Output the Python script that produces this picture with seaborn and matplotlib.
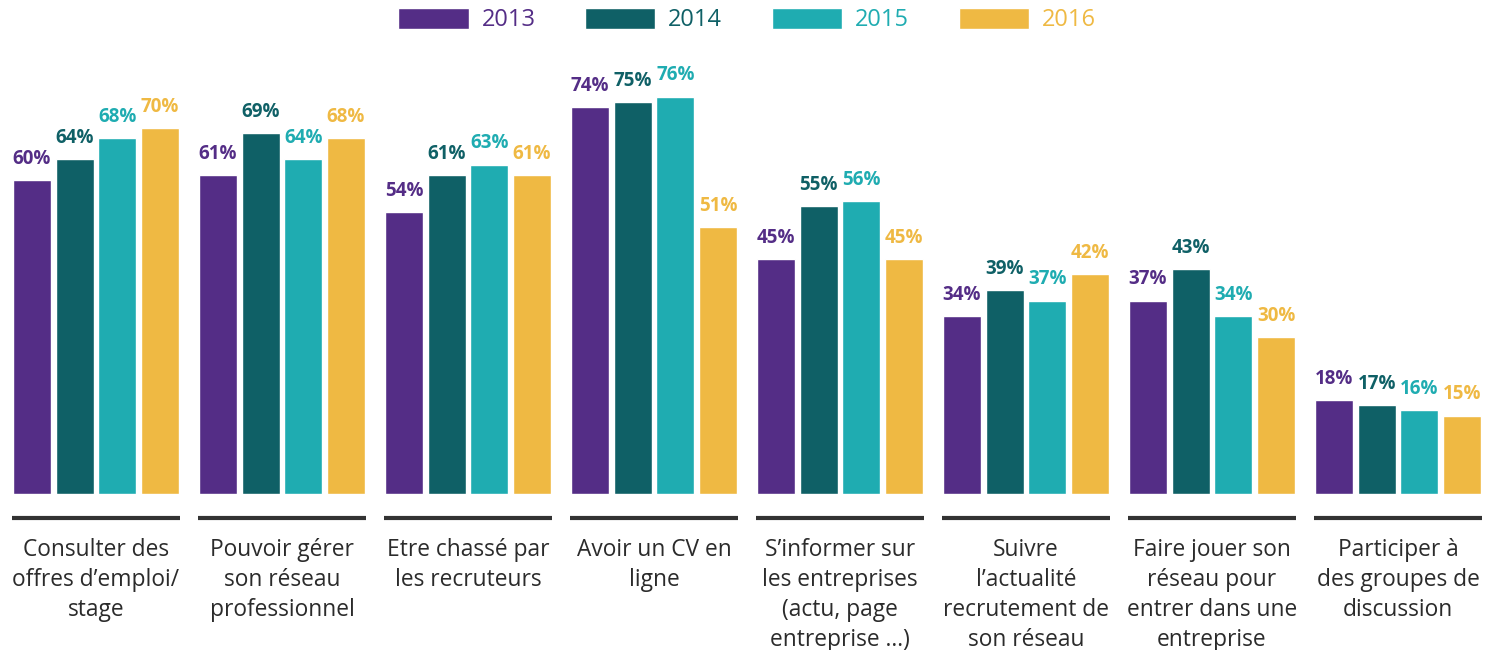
import pandas as pd
import matplotlib.pyplot as plt
import seaborn as sns

# usage values (%) per year
categories = [
    "Consulter des\noffres d\u2019emploi/\nstage",
    "Pouvoir gérer\nson réseau\nprofessionnel",
    "Etre chassé par\nles recruteurs",
    "Avoir un CV en\nligne",
    "S\u2019informer sur\nles entreprises\n(actu, page\nentreprise ...)",
    "Suivre\nl\u2019actualité\nrecrutement de\nson réseau",
    "Faire jouer son\nréseau pour\nentrer dans une\nentreprise",
    "Participer à\ndes groupes de\ndiscussion",
]
years = ["2013", "2014", "2015", "2016"]
v2013 = [60, 61, 54, 74, 45, 34, 37, 18]
v2014 = [64, 69, 61, 75, 55, 39, 43, 17]
v2015 = [68, 64, 63, 76, 56, 37, 34, 16]
v2016 = [70, 68, 61, 51, 45, 42, 30, 15]
colors = ["#542D86", "#0F6066", "#1FACB1", "#EFB943"]

rows = []
for yr, vals in zip(years, [v2013, v2014, v2015, v2016]):
    for cat, v in zip(categories, vals):
        rows.append({"cat": cat, "year": yr, "val": v})
df = pd.DataFrame(rows)

sns.set_style("white")
plt.rcParams["font.family"] = ["Open Sans", "DejaVu Sans"]

fig = plt.figure(figsize=(14.95, 6.5), dpi=100)
ax = fig.add_axes([3 / 1495, 1 - 494 / 650, 1488 / 1495, 444.5 / 650])

sns.barplot(data=df, x="cat", y="val", hue="year", palette=colors,
            width=0.918, gap=0.11, saturation=1, ax=ax)

# value labels above bars
for cont, col in zip(ax.containers, colors):
    ax.bar_label(cont, labels=[f"{int(b.get_height())}%" for b in cont],
                 padding=8, color=col, fontsize=13.5, fontweight="bold")

ax.set_xlim(-0.5, len(categories) - 0.5)
ax.set_ylim(0, 85)
ax.set_xlabel("")
ax.set_ylabel("")
ax.set_yticks([])
ax.set_xticks([])
sns.despine(ax=ax, left=True, bottom=True)

# separator line + label under each group
for i, cat in enumerate(categories):
    ax.plot([i - 0.449, i + 0.449], [-4.5, -4.5], color="#333333", lw=3,
            clip_on=False, solid_capstyle="butt")
    ax.text(i, -8.5, cat, ha="center", va="top", fontsize=16.4,
            color="#2b2b2b", linespacing=1.32, clip_on=False)

leg = ax.legend_
handles = leg.legend_handles
leg.remove()
fig.legend(handles, years, loc="center", bbox_to_anchor=(0.4997, 1 - 20 / 650),
           ncol=4, frameon=False, fontsize=17, labelcolor=colors,
           handlelength=2.97, handleheight=1.0, handletextpad=0.55,
           columnspacing=2.1, borderpad=0, borderaxespad=0)

fig.savefig("out.png", dpi=100)
